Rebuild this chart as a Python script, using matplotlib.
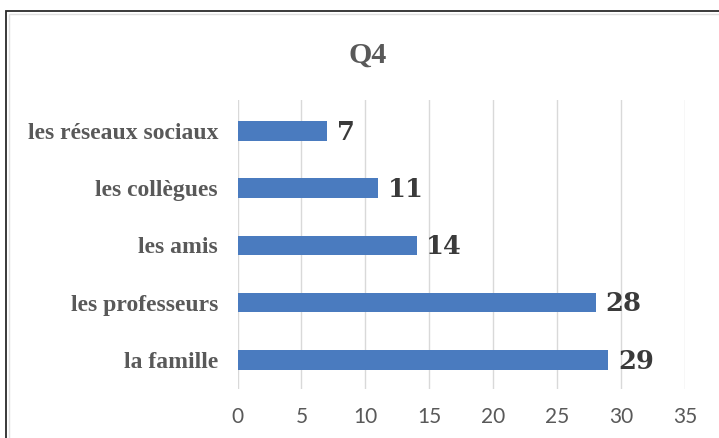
import matplotlib
matplotlib.use("Agg")
import matplotlib.pyplot as plt
from matplotlib.patches import Rectangle

categories = ["la famille", "les professeurs", "les amis", "les collègues", "les réseaux sociaux"]
values = [29, 28, 14, 11, 7]
xticks = [0, 5, 10, 15, 20, 25, 30, 35]
title = "Q4"

W, H = 719, 438
fig = plt.figure(figsize=(W / 100, H / 100), dpi=100)
fig.patch.set_facecolor("white")

# outer frame (cropped at right/bottom)
fig.patches.append(Rectangle((6 / W, -0.2), 1.5, 1 - 11 / H + 0.2, transform=fig.transFigure,
                             fill=False, edgecolor="#2a2a2a", linewidth=1.3))
fig.patches.append(Rectangle((8.5 / W, -0.2), 1.5, 1 - 13.5 / H + 0.2, transform=fig.transFigure,
                             fill=False, edgecolor="#e0e0e0", linewidth=1.0))

ax = fig.add_axes([237.5 / W, 1 - 389 / H, (685 - 237.5) / W, 289 / H])
y = list(range(len(categories)))
bars = ax.barh(y, values, height=0.34, color="#4a7bbf", zorder=2)

ax.set_xlim(0, 35)
ax.set_ylim(-0.51, 4.54)
ax.set_xticks(xticks)
ax.set_xticklabels([str(t) for t in xticks], fontsize=15, family="Lato", color="#595959")
ax.set_yticks(y)
ax.set_yticklabels(categories, fontsize=17, family="Liberation Serif", fontweight="bold", color="#595959")
ax.tick_params(axis="x", length=0, pad=13)
ax.tick_params(axis="y", length=0, pad=14)
for s in ax.spines.values():
    s.set_visible(False)
ax.grid(axis="x", color="#d9d9d9", linewidth=1.0, zorder=0)
ax.set_axisbelow(True)

for yi, v in zip(y, values):
    ax.annotate(str(v), (v, yi), xytext=(7, -1), textcoords="offset points",
                ha="left", va="center", fontsize=18.5, family="DejaVu Serif",
                fontweight="bold", color="#3a3a3a", annotation_clip=False)

fig.text(367.5 / W, 1 - 63 / H, title, ha="center", va="baseline", fontsize=21.6,
         family="Liberation Serif", fontweight="bold", color="#595959")

fig.savefig("out.png", dpi=100)
